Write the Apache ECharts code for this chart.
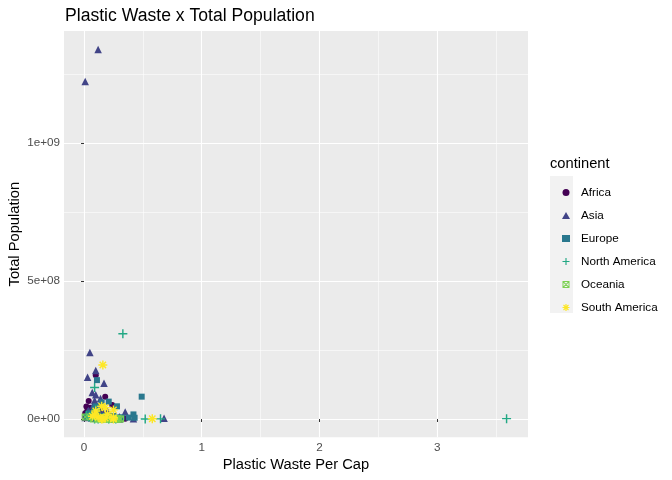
<!DOCTYPE html>
<html><head><meta charset="utf-8">
<script src="https://cdn.jsdelivr.net/npm/echarts@6/dist/echarts.min.js"></script>
<style>html,body{margin:0;padding:0;background:#fff}#c{width:672px;height:480px}</style>
</head><body><div id="c"></div>
<script>
const continents = ['Africa','Asia','Europe','North America','Oceania','South America'];
const colors = ['#440154','#414487','#2A788E','#22A884','#7AD151','#FDE725'];
const xMajorTicks = [0,1,2,3];
const xMinorTicks = [0.5,1.5,2.5,3.5];
const yMajorTicks = [0,5e8,1e9];
const yMinorTicks = [2.5e8,7.5e8,1.25e9];
const yTickLabels = ['0e+00','5e+08','1e+09'];

// [plastic waste per cap, total population]
const africa = [[0.10,159e6],[0.18,81e6],[0.04,65e6],[0.24,51e6],[0.02,45e6],[0.02,23e6],[0.11,23e6],[0.35,0.9e6],
  [0.07,32e6],[0.14,36e6],[0.05,41e6],[0.03,34e6],[0.06,25e6],[0.09,24e6],[0.16,20e6],[0.01,21e6],[0.12,19e6],
  [0.05,14e6],[0.08,13e6],[0.03,15e6],[0.15,11e6],[0.10,10e6],[0.02,10e6],[0.06,9e6],[0.04,6e6],[0.13,6e6],
  [0.08,4e6],[0.02,4e6],[0.20,2e6],[0.27,1.5e6],[0.11,1.2e6],[0.05,1.6e6],[0.19,0.5e6],[0.14,0.7e6],[0.07,2.2e6],
  [0.22,6e6],[0.01,7e6],[0.03,3.5e6],[0.09,0.2e6],[0.17,4e6]];
const asia = [[0.12,1.340e9],[0.01,1.224e9],[0.05,241e6],[0.10,176e6],[0.03,151e6],[0.17,130e6],[0.07,96e6],
  [0.10,88e6],[0.14,74e6],[0.09,67e6],[0.13,49e6],[0.08,51e6],[0.04,31e6],[0.20,28e6],[0.16,27e6],[0.35,25e6],
  [0.06,24e6],[0.11,20e6],[0.03,27e6],[0.02,14e6],[0.18,7.5e6],[0.30,8e6],[0.19,5e6],[0.22,3e6],[0.68,3e6],
  [0.25,1.7e6],[0.12,4e6],[0.08,6e6],[0.15,2.9e6],[0.26,0.3e6],[0.42,1.3e6],[0.05,10e6],[0.01,5.5e6],[0.23,1.8e6],
  [0.14,3.5e6],[0.09,4.5e6],[0.30,0.4e6]];
const europe = [[0.11,141e6],[0.49,81e6],[0.21,63e6],[0.15,60e6],[0.28,46e6],[0.10,46e6],[0.09,38e6],[0.05,21e6],
  [0.42,16.6e6],[0.04,18e6],[0.22,11e6],[0.25,11e6],[0.18,10.6e6],[0.08,10e6],[0.14,9.4e6],[0.20,9.5e6],
  [0.43,4.5e6],[0.02,7.3e6],[0.30,5.5e6],[0.32,5.4e6],[0.05,4.4e6],[0.17,7.5e6],[0.09,3.2e6],[0.16,2e6],
  [0.15,1.3e6],[0.24,0.4e6],[0.13,1.1e6],[0.24,0.3e6],[0.06,2.2e6],[0.12,3.3e6],[0.14,0.6e6],[0.38,5e6]];
const northAmerica = [[0.33,309e6],[0.09,114e6],[0.52,0.3e6],[0.65,0.5e6],[3.59,1.3e6],[0.10,34e6],[0.02,14e6],
  [0.06,11e6],[0.05,10e6],[0.12,10e6],[0.04,7.6e6],[0.06,5.8e6],[0.09,6.2e6],[0.16,4.6e6],[0.19,3.5e6],
  [0.16,2.7e6],[0.12,0.35e6],[0.21,0.1e6],[0.27,0.06e6],[0.09,0.1e6]];
const oceania = [[0.11,22e6],[0.13,4.4e6],[0.01,7e6],[0.21,0.86e6],[0.22,0.5e6],[0.24,0.24e6],[0.25,0.19e6],
  [0.31,0.1e6],[0.12,0.1e6],[0.08,0.1e6],[0.28,0.05e6],[0.17,0.02e6],[0.19,0.25e6],[0.27,0.27e6],[0.15,0.25e6],
  [0.29,0.16e6]];
const southAmerica = [[0.16,196e6],[0.15,46e6],[0.18,41e6],[0.25,33e6],[0.10,29e6],[0.20,17e6],[0.09,15e6],
  [0.07,10e6],[0.12,6.5e6],[0.18,3.4e6],[0.58,0.75e6],[0.16,0.5e6],[0.25,0.2e6],[0.15,0.003e6],[0.25,5e6]];

const PLUS = 'path://M42,0H58V42H100V58H58V100H42V58H0V42H42Z';
const ASTER = 'path://M42,0H58V42H100V58H58V100H42V58H0V42H42Z M8.9,20.3L20.3,8.9L91.1,79.7L79.7,91.1Z M79.7,8.9L91.1,20.3L20.3,91.1L8.9,79.7Z';
const SQX = 'path://M0,0H100V100H0Z M14,14V86H86V14Z M0,10L10,0L100,90L90,100Z M90,0L100,10L10,100L0,90Z';

const seriesData = [africa, asia, europe, northAmerica, oceania, southAmerica];
const symbols = ['circle','triangle','rect',PLUS,SQX,ASTER];
const sizes = [6,7.5,6,9,7,9];

const FONT = 'Liberation Sans';
const xMin = -0.170, xMax = 3.772, yMin = -0.0664e9, yMax = 1.407e9;

const chart = echarts.init(document.getElementById('c'), null, {renderer:'canvas'});
chart.setOption({
  animation:false,
  textStyle:{fontFamily:FONT},
  title:{text:'Plastic Waste x Total Population', left:60, top:2,
    textStyle:{fontSize:17.6, fontWeight:'normal', color:'#000', fontFamily:FONT}},
  grid:{left:64, right:144, top:31, bottom:42.7, show:true, backgroundColor:'#EBEBEB', borderWidth:0, outerBoundsMode:'none'},
  xAxis:[
    {type:'value', min:xMin, max:xMax, position:'bottom',
     axisLine:{show:false},
     axisTick:{show:true, length:3, customValues:xMajorTicks, lineStyle:{color:'#333', width:1}},
     axisLabel:{customValues:xMajorTicks, color:'#4D4D4D', fontSize:11.7, margin:4, fontFamily:FONT},
     splitLine:{show:true, lineStyle:{color:'#fff', width:1.1}},
     name:'Plastic Waste Per Cap', nameLocation:'middle', nameGap:20, nameMoveOverlap:false,
     nameTextStyle:{fontSize:14.7, color:'#000', fontFamily:FONT}},
    {type:'value', min:xMin, max:xMax, position:'top',
     axisLine:{show:false},
     axisTick:{show:false, customValues:xMinorTicks},
     axisLabel:{show:false, customValues:xMinorTicks},
     splitLine:{show:true, lineStyle:{color:'#fff', width:0.55}}}
  ],
  yAxis:[
    {type:'value', min:yMin, max:yMax, position:'left',
     axisLine:{show:false},
     axisTick:{show:true, length:3, customValues:yMajorTicks, lineStyle:{color:'#333', width:1}},
     axisLabel:{customValues:yMajorTicks, color:'#4D4D4D', fontSize:11.7, margin:4, fontFamily:FONT,
       formatter:function(v){let b=0;for(let i=0;i<yMajorTicks.length;i++){if(Math.abs(yMajorTicks[i]-v)<Math.abs(yMajorTicks[b]-v))b=i;}return yTickLabels[b];}},
     splitLine:{show:true, lineStyle:{color:'#fff', width:1.1}},
     name:'Total Population', nameLocation:'middle', nameGap:42, nameRotate:90, nameMoveOverlap:false,
     nameTextStyle:{fontSize:14.7, color:'#000', fontFamily:FONT}},
    {type:'value', min:yMin, max:yMax, position:'right',
     axisLine:{show:false},
     axisTick:{show:false, customValues:yMinorTicks},
     axisLabel:{show:false, customValues:yMinorTicks},
     splitLine:{show:true, lineStyle:{color:'#fff', width:0.55}}}
  ],
  legend:{orient:'vertical', left:557, top:181, itemWidth:8, itemHeight:7, itemGap:10,
    data:continents, selectedMode:false,
    textStyle:{fontSize:11.7, color:'#000', lineHeight:13, padding:[0,0,0,6], fontFamily:FONT}},
  graphic:[
    {type:'rect', left:550, top:176, z:-1, shape:{width:23, height:137}, style:{fill:'#F2F2F2'}},
    {type:'text', left:550, top:156, style:{text:'continent', fontSize:14.7, fill:'#000', fontFamily:FONT}}
  ],
  series: continents.map(function(name,i){return {
    type:'scatter', name:name, xAxisIndex:0, yAxisIndex:0,
    data:seriesData[i], symbol:symbols[i], symbolSize:sizes[i],
    itemStyle:{color:colors[i], opacity:1}, emphasis:{disabled:true}, silent:true
  };})
});
</script></body></html>
